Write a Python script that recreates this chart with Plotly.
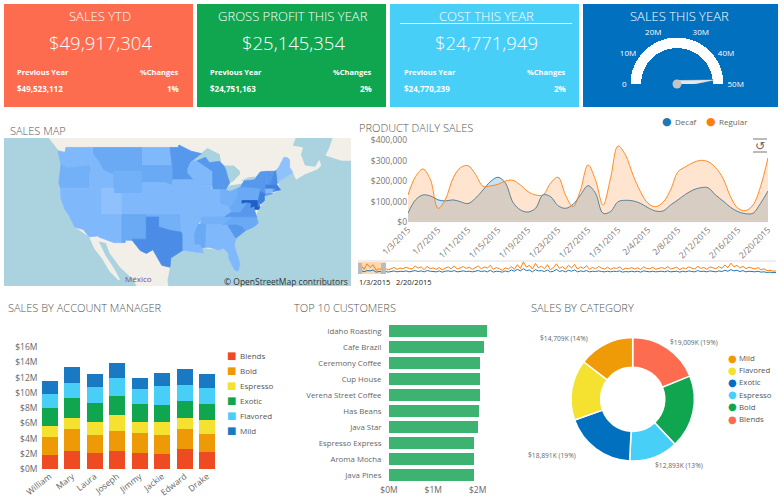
import math
import pandas as pd
import plotly.graph_objects as go

W, H = 784, 500
FONT = "Open Sans"
GREY = "#666666"

# ---------- KPI cards ----------
card_titles = ["SALES YTD", "GROSS PROFIT THIS YEAR", "COST THIS YEAR", "SALES THIS YEAR"]
card_values = ["$49,917,304", "$25,145,354", "$24,771,949"]
card_prev = ["$49,523,112", "$24,751,163", "$24,770,239"]
card_change = ["1%", "2%", "2%"]
card_colors = ["#FD6C4F", "#0FA64F", "#48CFF7", "#0070BF"]

# ---------- gauge ----------
gauge_ticks = [0, 10, 20, 30, 40, 50]
gauge_labels = ["0", "10M", "20M", "30M", "40M", "50M"]
gauge_needle = 48.3

# ---------- daily sales ----------
daily_dates = [d.strftime("%Y-%m-%d") for d in pd.date_range("2015-01-03", "2015-02-20")]
decaf = [44, 109, 133, 128, 109, 104, 109, 100, 91, 117, 157, 198, 219, 190, 97, 60, 50, 68, 133, 125, 81, 68, 87, 133, 178,
         141, 44, 52, 100, 107, 104, 92, 71, 55, 55, 84, 109, 136, 157, 168, 168, 133, 104, 73, 52, 42, 44, 92, 152]
regular = [133, 222, 259, 206, 68, 113, 214, 266, 275, 233, 175, 177, 185, 201, 204, 181, 149, 133, 133, 190, 219, 133, 76, 157, 279,
           206, 84, 214, 371, 327, 230, 149, 92, 76, 97, 157, 246, 270, 290, 301, 295, 266, 214, 125, 68, 57, 84, 173, 314]
daily_ticks = ["2015-01-03", "2015-01-07", "2015-01-11", "2015-01-15", "2015-01-19", "2015-01-23", "2015-01-27",
               "2015-01-31", "2015-02-04", "2015-02-08", "2015-02-12", "2015-02-16", "2015-02-20"]
daily_tick_text = ["1/3/2015", "1/7/2015", "1/11/2015", "1/15/2015", "1/19/2015", "1/23/2015", "1/27/2015",
                   "1/31/2015", "2/4/2015", "2/8/2015", "2/12/2015", "2/16/2015", "2/20/2015"]
daily_y_ticks = [0, 100, 200, 300, 400]
daily_y_text = ["$0", "$100,000", "$200,000", "$300,000", "$400,000"]
nav_regular = [190, 280, 150, 330, 210, 300, 120, 170, 140, 190, 130, 160, 210, 150, 190, 170, 220, 180, 160, 260,
               190, 230, 140, 250, 170, 200, 150, 210, 130, 190, 230, 170, 260, 160, 190, 240, 180, 220, 150, 200,
               260, 170, 230, 190, 280, 150, 210, 170, 120, 200, 160, 240, 150, 300, 180, 390, 220, 280, 160, 340,
               200, 250, 170, 300, 140, 210, 330, 180, 240, 150, 280, 190, 310, 160, 230, 180, 270, 150, 210, 170,
               240, 190, 160, 220, 150, 200, 180, 230, 140, 190, 170, 210, 160, 200, 150, 230, 180, 170, 220, 150,
               190, 210, 170, 240, 160, 190, 220, 140, 200, 170, 230, 190, 160, 250, 180, 210, 150, 230, 190, 170,
               240, 180, 290, 200, 350, 230, 280, 190, 250, 170, 220, 200, 160, 210, 130, 170, 110, 120, 90, 100]
nav_decaf = [90, 120, 70, 110, 100, 130, 60, 80, 70, 90, 60, 80, 100, 70, 90, 80, 100, 70, 90, 110,
             80, 100, 70, 110, 90, 80, 70, 100, 60, 90, 100, 80, 110, 70, 90, 100, 80, 90, 70, 90,
             110, 80, 100, 70, 120, 60, 90, 80, 60, 100, 70, 130, 90, 150, 100, 170, 110, 130, 70, 140,
             100, 110, 80, 130, 70, 90, 150, 80, 110, 70, 120, 90, 130, 70, 100, 80, 110, 70, 90, 80,
             100, 80, 70, 90, 70, 90, 80, 100, 60, 80, 70, 90, 70, 90, 60, 100, 80, 70, 90, 70,
             80, 90, 70, 100, 70, 80, 90, 60, 90, 70, 100, 80, 70, 110, 80, 90, 70, 100, 80, 70,
             100, 80, 120, 90, 140, 100, 120, 80, 110, 70, 90, 80, 70, 90, 60, 70, 50, 60, 40, 50]
nav_dates = pd.date_range("2015-01-03", periods=len(nav_regular), freq="5D").strftime("%Y-%m-%d").tolist()

# ---------- account managers ----------
managers = ["William", "Mary", "Laura", "Joseph", "Jimmy", "Jackie", "Edward", "Drake"]
blends = [1.85, 2.40, 2.15, 2.40, 2.15, 1.97, 2.68, 2.28]
bold = [2.35, 2.80, 2.35, 2.60, 2.60, 2.50, 2.58, 2.37]
espresso = [1.45, 1.50, 1.70, 2.10, 1.45, 1.67, 1.49, 1.80]
exotic = [2.35, 2.65, 2.50, 2.50, 2.30, 2.26, 2.25, 2.10]
flavored = [1.80, 1.95, 2.10, 2.40, 2.00, 2.50, 2.05, 2.11]
mild = [1.80, 2.10, 1.70, 1.95, 1.50, 1.70, 2.05, 1.79]
acct_names = ["Blends", "Bold", "Espresso", "Exotic", "Flavored", "Mild"]
acct_colors = ["#EE4B23", "#EE9A06", "#F5E12F", "#0FA64F", "#48CFF7", "#1979C3"]
acct_y_ticks = [0, 2, 4, 6, 8, 10, 12, 14, 16]
acct_y_text = ["$0M", "$2M", "$4M", "$6M", "$8M", "$10M", "$12M", "$14M", "$16M"]

# ---------- customers ----------
customers = ["Idaho Roasting", "Cafe Brazil", "Ceremony Coffee", "Cup House", "Verena Street Coffee", "Has Beans",
             "Java Star", "Espresso Express", "Aroma Mocha", "Java Pines"]
customer_sales = [2.22, 2.145, 2.06, 2.06, 2.06, 2.03, 2.015, 1.92, 1.92, 1.92]

# ---------- category donut ----------
cat_names = ["Blends", "Bold", "Espresso", "Exotic", "Flavored", "Mild"]
cat_values = [19009, 19300, 12893, 18891, 16000, 14709]
cat_colors = ["#FD6C4F", "#0FA64F", "#48CFF7", "#0070BF", "#F5E12F", "#EF9B07"]
cat_legend = ["Mild", "Flavored", "Exotic", "Espresso", "Bold", "Blends"]
cat_labels = ["$19,009K (19%)", "$14,709K (14%)", "$18,891K (19%)", "$12,893K (13%)"]

# ---------- map ----------
S1, S2, S3, S4, S5, S6, S7, S8 = "#8FC2FC", "#80B8FC", "#72B0F7", "#6AA9F4", "#5598EC", "#4A8CE6", "#3E80E0", "#1F5FC8"
land = [(-128, 52), (-127, 50.5), (-124.7, 48.6), (-123.4, 48.3), (-124.5, 43), (-124, 40), (-122, 36.8), (-120.6, 34.5),
        (-117.1, 32.5), (-115.8, 30), (-114, 28), (-112, 25), (-109.8, 23), (-109.5, 23.3), (-111, 25.8), (-113, 28.5),
        (-114.7, 31.5), (-113, 31.2), (-112, 29), (-109.5, 26), (-106, 23), (-105.2, 21), (-97.5, 21), (-97.8, 23),
        (-97.2, 26), (-97, 28), (-94, 29.7), (-91, 29.3), (-89, 29.1), (-89.4, 30.2), (-85.3, 29.7), (-84, 30.1),
        (-82.8, 29), (-82.7, 27.8), (-81.2, 25.2), (-80.4, 25.2), (-80, 26.7), (-81.4, 30.7), (-81, 32.2), (-78.6, 33.8),
        (-75.5, 35.3), (-76, 37), (-75.1, 38.4), (-74, 39.7), (-74, 40.6), (-72, 41), (-70, 41.7), (-70.7, 43.1),
        (-67, 44.8), (-66.2, 43.5), (-64, 44.5), (-61, 45.3), (-60, 46), (-60.5, 47), (-61.5, 45.8), (-64, 46),
        (-65, 47.8), (-64.5, 49), (-67, 49.3), (-66, 51), (-128, 52)]
newfoundland = [(-59, 47.7), (-55, 46.8), (-52.5, 46.8), (-52.5, 50.5), (-57, 51), (-58, 49)]
lakes = [
    [(-92, 46.7), (-89.5, 48), (-88, 48.9), (-85, 47.9), (-84.6, 46.5), (-87.5, 46.5), (-90.5, 46.8)],
    [(-84.6, 46), (-81.5, 46), (-80, 45), (-80, 44.5), (-81.7, 43.2), (-82.5, 43), (-83.5, 45.3)],
    [(-83.5, 41.7), (-82.5, 42.5), (-79, 42.9), (-78.9, 42.8), (-80.5, 42), (-82.5, 41.4)],
    [(-79.8, 43.3), (-78, 43.9), (-76.2, 44.1), (-76.5, 43.5), (-79, 43.3)],
]
states = {
    "WA": (S2, [(-124.7, 48.4), (-123, 48.2), (-122.8, 49), (-117, 49), (-117, 46), (-119, 45.9), (-121, 45.7), (-122.3, 45.6), (-124, 46.2)]),
    "OR": (S3, [(-124, 46.2), (-122.3, 45.6), (-121, 45.7), (-119, 45.9), (-117, 46), (-116.5, 45.5), (-117, 44.3), (-117, 42), (-124.2, 42), (-124.5, 43)]),
    "CA": (S2, [(-124.2, 42), (-120, 42), (-120, 39), (-114.6, 35), (-114.7, 32.7), (-117.1, 32.5), (-118.5, 34), (-120.6, 34.5), (-122, 36.8), (-123, 38), (-124, 40)]),
    "NV": (S2, [(-120, 42), (-114, 42), (-114, 36.2), (-114.6, 36), (-114.6, 35), (-120, 39)]),
    "ID": (S2, [(-117, 49), (-116, 49), (-116, 48), (-114.5, 46.6), (-113.5, 45.3), (-111, 44.5), (-111, 42), (-117, 42), (-117, 44.3), (-116.5, 45.5), (-117, 46)]),
    "MT": (S4, [(-116, 49), (-104, 49), (-104, 45), (-111, 45), (-111, 44.5), (-113.5, 45.3), (-114.5, 46.6), (-116, 48)]),
    "WY": (S3, [(-111, 45), (-104, 45), (-104, 41), (-111, 41)]),
    "UT": (S1, [(-114, 42), (-111, 42), (-111, 41), (-109, 41), (-109, 37), (-114, 37)]),
    "AZ": (S2, [(-114, 37), (-109, 37), (-109, 31.3), (-111, 31.3), (-114.8, 32.5), (-114.7, 32.7), (-114.6, 35), (-114.6, 36), (-114, 36.2)]),
    "CO": (S2, [(-109, 41), (-102, 41), (-102, 37), (-109, 37)]),
    "NM": (S4, [(-109, 37), (-103, 37), (-103, 32), (-106.5, 32), (-106.5, 31.8), (-108.2, 31.8), (-108.2, 31.3), (-109, 31.3)]),
    "ND": (S2, [(-104, 49), (-97.2, 49), (-96.6, 46), (-104, 46)]),
    "SD": (S4, [(-104, 46), (-96.6, 46), (-96.5, 42.5), (-98.5, 43), (-104, 43)]),
    "NE": (S2, [(-104, 43), (-98.5, 43), (-96.5, 42.5), (-95.3, 40), (-102, 40), (-102, 41), (-104, 41)]),
    "KS": (S2, [(-102, 40), (-95.3, 40), (-94.6, 39), (-94.6, 37), (-102, 37)]),
    "OK": (S3, [(-103, 37), (-94.6, 37), (-94.4, 33.7), (-97, 33.8), (-100, 34.5), (-100, 36.5), (-103, 36.5)]),
    "TX": (S6, [(-106.5, 32), (-103, 32), (-103, 36.5), (-100, 36.5), (-100, 34.5), (-97, 33.8), (-94.1, 33.5), (-94, 29.7), (-97, 28), (-97.2, 26), (-99.2, 26.4), (-101.4, 29.8), (-103, 29), (-104.5, 29.6), (-106.5, 31.8)]),
    "MN": (S5, [(-97.2, 49), (-95.2, 49), (-95, 49.4), (-92, 48.4), (-89.5, 48), (-92, 46.7), (-92.8, 45.5), (-92.8, 44.7), (-91.3, 43.5), (-96.5, 43.5), (-96.5, 45.4), (-96.6, 46)]),
    "IA": (S2, [(-96.5, 43.5), (-91.3, 43.5), (-90.2, 41.8), (-91.4, 40.4), (-95.7, 40.6), (-96.5, 42.5)]),
    "MO": (S2, [(-95.7, 40.6), (-91.4, 40.4), (-90.2, 38.8), (-89.2, 37), (-89.5, 36), (-90.4, 36), (-94.6, 36.5), (-94.6, 39), (-95.3, 40)]),
    "AR": (S2, [(-94.6, 36.5), (-90.2, 36.5), (-89.7, 36), (-91.2, 33), (-94, 33), (-94.4, 33.7)]),
    "LA": (S2, [(-94, 33), (-91.2, 33), (-91, 31), (-89.7, 31), (-89.4, 30.2), (-89, 29.1), (-91, 29.3), (-94, 29.7)]),
    "WI": (S2, [(-92, 46.7), (-90.5, 46.8), (-88, 45.6), (-86.7, 45), (-86.7, 42.5), (-90.6, 42.5), (-91.3, 43.5), (-92.8, 44.7), (-92.8, 45.5)]),
    "IL": (S2, [(-90.6, 42.5), (-87, 42.5), (-87.5, 38.5), (-88, 37.8), (-89.2, 37), (-90.2, 38.8), (-91.4, 40.4), (-90.2, 41.8)]),
    "MI": (S5, [(-90.5, 46.8), (-88.5, 47.4), (-87.5, 46.5), (-85, 46.7), (-84, 46), (-83.5, 45.3), (-83, 44), (-82.5, 43), (-83.5, 41.7), (-86.7, 41.7), (-86.7, 45), (-88, 45.6)]),
    "IN": (S2, [(-87.5, 41.8), (-84.8, 41.7), (-84.8, 39.1), (-86, 38), (-88, 37.8), (-87.5, 38.5)]),
    "OH": (S3, [(-84.8, 41.7), (-83.5, 41.7), (-82.5, 41.4), (-80.5, 42), (-80.5, 40.6), (-81.8, 39), (-82.6, 38.4), (-84.8, 39.1)]),
    "KY": (S2, [(-89.2, 37), (-88, 37.8), (-86, 38), (-84.8, 39.1), (-82.6, 38.4), (-82, 37.5), (-83.7, 36.6), (-89.5, 36.5)]),
    "TN": (S3, [(-89.7, 35), (-89.5, 36.5), (-83.7, 36.6), (-81.7, 36.6), (-84.3, 35), (-90.2, 35)]),
    "MS": (S4, [(-90.3, 35), (-88.2, 35), (-88.4, 30.3), (-89.4, 30.2), (-89.7, 31), (-91, 31), (-91.2, 33)]),
    "AL": (S2, [(-88.2, 35), (-85.6, 35), (-85, 32.3), (-85, 31), (-87.6, 31), (-87.5, 30.3), (-88.4, 30.3)]),
    "GA": (S2, [(-85.6, 35), (-83.1, 35), (-81, 32.2), (-81.4, 30.7), (-82, 30.4), (-84.9, 30.7), (-85, 32.3)]),
    "FL": (S2, [(-87.6, 31), (-85, 31), (-84.9, 30.7), (-82, 30.4), (-81.4, 30.7), (-80.5, 28.3), (-80, 26.7), (-80.4, 25.2), (-81.2, 25.2), (-82.7, 27.8), (-82.8, 29), (-84, 30.1), (-85.3, 29.7), (-87.5, 30.3)]),
    "SC": (S5, [(-83.1, 35), (-81, 35.1), (-79.5, 34.7), (-78.6, 33.8), (-81, 32.2)]),
    "NC": (S4, [(-84.3, 35), (-83.1, 35), (-81, 35.1), (-79.5, 34.7), (-78.6, 33.8), (-76.5, 34.6), (-75.5, 35.3), (-75.9, 36.55), (-81.7, 36.6)]),
    "VA": (S5, [(-83.7, 36.6), (-75.9, 36.55), (-76.3, 37.5), (-76.5, 38.2), (-77.3, 38.4), (-77.2, 39.1), (-78.3, 39.4), (-80, 37.5), (-82, 37.5)]),
    "WV": (S4, [(-82.6, 38.4), (-81.8, 39), (-80.5, 40.6), (-80.5, 39.7), (-79.5, 39.7), (-79.5, 39.2), (-78.3, 39.4), (-80, 37.5), (-82, 37.5)]),
    "PA": (S4, [(-80.5, 42), (-79.8, 42.3), (-75, 42), (-75.1, 41.3), (-75.2, 40), (-75.8, 39.7), (-80.5, 39.7)]),
    "NY": (S5, [(-79.8, 42.3), (-79, 43.3), (-76.5, 43.5), (-75, 44.9), (-73.4, 45), (-73.5, 41.3), (-72, 41), (-74, 40.6), (-74.2, 41.1), (-75, 41.4), (-75, 42)]),
    "NJ": (S7, [(-75, 41.4), (-74, 41), (-74, 39.7), (-74.9, 39), (-75.5, 39.6)]),
    "DE": (S7, [(-75.8, 39.7), (-75.4, 39.6), (-75.1, 38.5), (-75.7, 38.5)]),
    "MD": (S8, [(-79.5, 39.7), (-75.8, 39.7), (-75.7, 38.5), (-75.1, 38.4), (-75.4, 38), (-76.3, 38), (-76.5, 38.5), (-77.3, 38.4), (-77.2, 39.2), (-78.3, 39.4), (-79.5, 39.2)]),
    "CT": (S2, [(-73.7, 42), (-71.8, 42), (-71.8, 41.3), (-73.6, 41)]),
    "RI": (S5, [(-71.8, 42), (-71.2, 42), (-71.2, 41.5), (-71.8, 41.3)]),
    "MA": (S7, [(-73.5, 42.7), (-71, 42.7), (-70, 41.7), (-71.2, 41.5), (-71.2, 42), (-73.7, 42)]),
    "VT": (S5, [(-73.4, 45), (-71.5, 45), (-72.4, 42.7), (-73.3, 42.7)]),
    "NH": (S6, [(-71.5, 45), (-71, 45.2), (-70.7, 43.1), (-71, 42.7), (-72.4, 42.7)]),
    "ME": (S1, [(-71, 45.2), (-70.3, 45.9), (-69.2, 47.4), (-68.3, 47.3), (-67.8, 47), (-67.8, 45.7), (-67, 44.8), (-70.7, 43.1)]),
}


def merc(lat):
    return math.degrees(math.log(math.tan(math.radians(45 + lat / 2))))


def dom_x(x0, x1):
    return [x0 / W, x1 / W]


def dom_y(top, bottom):
    return [1 - bottom / H, 1 - top / H]


annotations = []
shapes = []


def text(x, y, s, size=10, color=GREY, anchor="left", family=FONT, weight=400):
    annotations.append(dict(x=x / W, y=1 - y / H, xref="paper", yref="paper", text=s, showarrow=False,
                            xanchor=anchor, yanchor="middle", align=anchor,
                            font=dict(size=size, color=color, family=family, weight=weight), borderpad=0))


def rect(x0, y0, x1, y1, color, layer="below"):
    shapes.append(dict(type="rect", xref="paper", yref="paper", x0=x0 / W, x1=x1 / W, y0=1 - y0 / H, y1=1 - y1 / H,
                       fillcolor=color, line=dict(width=0), layer=layer))


def poly_trace(points, color, edge=0.0):
    return go.Scatter(x=[p[0] for p in points] + [points[0][0]], y=[merc(p[1]) for p in points] + [merc(points[0][1])],
                      mode="lines", fill="toself", fillcolor=color, line=dict(width=edge, color=color), hoverinfo="skip",
                      showlegend=False, xaxis="x", yaxis="y")


fig = go.Figure()

# cards
card_boxes = [(4, 193), (197, 386), (390, 579), (583, 778)]
for (x0, x1), c in zip(card_boxes, card_colors):
    rect(x0, 4, x1, 107, c)
title_cx = [100, 293, 486, 679]
for t, cx in zip(card_titles, title_cx):
    text(cx, 15.5, t, size=13, color="white", anchor="center", weight=300)
prev_x = [16, 209, 403]
chg_x = [180, 373, 567]
for i in range(3):
    text(title_cx[i], 43, card_values[i], size=18.5, color="white", anchor="center", weight=300)
    text(prev_x[i], 72, "<b>Previous Year</b>", size=7.5, color="white")
    text(chg_x[i], 72, "<b>%Changes</b>", size=7.5, color="white", anchor="right")
    text(prev_x[i], 89, "<b>" + card_prev[i] + "</b>", size=8, color="white")
    text(chg_x[i], 89, "<b>" + card_change[i] + "</b>", size=8, color="white", anchor="right")
shapes.append(dict(type="line", xref="paper", yref="paper", x0=400 / W, x1=572 / W, y0=1 - 23.5 / H, y1=1 - 23.5 / H,
                   line=dict(color="white", width=1)))

# section titles
for x, y, s in [(9, 130, "SALES MAP"), (358, 127.5, "PRODUCT DAILY SALES"), (7, 307, "SALES BY ACCOUNT MANAGER"),
                (293, 307, "TOP 10 CUSTOMERS"), (530, 307, "SALES BY CATEGORY")]:
    text(x, y, s, size=11, color="#555555", weight=300)

# map
rect(4, 138, 351, 286, "#AAD3DF")
fig.add_trace(poly_trace(land, "#F2EFE9"))
fig.add_trace(poly_trace(newfoundland, "#F2EFE9"))
for lk in lakes:
    fig.add_trace(poly_trace(lk, "#AAD3DF"))
for code, (col, pts) in states.items():
    fig.add_trace(poly_trace(pts, col, edge=0.8))
text(138, 278, "México", size=8, color="#7B4A90", anchor="center")
text(349, 281.5, "© OpenStreetMap contributors", size=8.5, color="#333333", anchor="right")

# daily sales
fig.add_trace(go.Scatter(x=daily_dates, y=decaf, name="Decaf", mode="lines", line=dict(color="#1F77B4", width=0.9, shape="spline"),
                         fill="tozeroy", fillcolor="rgba(31,119,180,0.22)", xaxis="x2", yaxis="y2", showlegend=False))
fig.add_trace(go.Scatter(x=daily_dates, y=regular, name="Regular", mode="lines", line=dict(color="#FF7F0E", width=0.9, shape="spline"),
                         fill="tozeroy", fillcolor="rgba(255,127,14,0.2)", xaxis="x2", yaxis="y2", showlegend=False))
text(667, 121.5, "●", size=11, color="#1F77B4", anchor="center", family="DejaVu Sans")
text(673.5, 121.5, "Decaf", size=8, color="#666666")
text(711, 121.5, "●", size=11, color="#FF7F0E", anchor="center", family="DejaVu Sans")
text(718, 121.5, "Regular", size=8, color="#666666")
text(760, 146, "↺", size=12, color="#666666", anchor="center", family="DejaVu Sans")
for yy in (139, 152):
    shapes.append(dict(type="line", xref="paper", yref="paper", x0=753 / W, x1=767 / W, y0=1 - yy / H, y1=1 - yy / H,
                       line=dict(color="#777777", width=1)))

# navigator
rect(358, 262, 386, 274, "#FBD9B5")
shapes.append(dict(type="line", xref="paper", yref="paper", x0=358 / W, x1=776 / W, y0=1 - 261 / H, y1=1 - 261 / H,
                   line=dict(color="#DDDDDD", width=1)))
fig.add_trace(go.Scatter(x=nav_dates, y=nav_decaf, mode="lines", line=dict(color="#1F77B4", width=1), xaxis="x3", yaxis="y3",
                         hoverinfo="skip", showlegend=False))
fig.add_trace(go.Scatter(x=nav_dates, y=nav_regular, mode="lines", line=dict(color="#FF7F0E", width=1), xaxis="x3", yaxis="y3",
                         hoverinfo="skip", showlegend=False))
rect(358, 263, 362, 274, "#BBBBBB", layer="above")
rect(381, 263, 386, 274, "#BBBBBB", layer="above")
text(358, 282, "1/3/2015", size=7.5, color="#222222")
text(395, 282, "2/20/2015", size=7.5, color="#222222")

# account manager bars
for name, vals, col in zip(acct_names, [blends, bold, espresso, exotic, flavored, mild], acct_colors):
    fig.add_trace(go.Bar(x=managers, y=vals, name=name, marker=dict(color=col, line=dict(width=0)), xaxis="x4", yaxis="y4",
                         width=0.7, showlegend=False))
for i, (name, col) in enumerate(zip(acct_names, acct_colors)):
    y = 355.5 + i * 15
    text(231.5, y, "■", size=10, color=col, anchor="center", family="DejaVu Sans")
    text(239, y, name, size=8, color="#555555")

# customers
fig.add_trace(go.Bar(x=customer_sales, y=customers, orientation="h", width=0.8, marker=dict(color="#3CB371", line=dict(width=0)),
                     xaxis="x5", yaxis="y5", showlegend=False))

# donut
fig.add_trace(go.Pie(labels=cat_names, values=cat_values, hole=0.52, sort=False, direction="clockwise", rotation=0,
                     marker=dict(colors=cat_colors, line=dict(color="white", width=1.5)), textinfo="none", showlegend=False,
                     domain=dict(x=dom_x(632.7 - 61.7, 632.7 + 61.7), y=dom_y(399.3 - 61.7, 399.3 + 61.7))))
for (x, y), s in zip([(694, 342), (564, 338), (552, 455), (679, 465)], cat_labels):
    text(x, y, s, size=6.7, color="#666666", anchor="center")
cat_legend_colors = ["#EF9B07", "#F5E12F", "#0070BF", "#48CFF7", "#0FA64F", "#FD6C4F"]
for i, (name, col) in enumerate(zip(cat_legend, cat_legend_colors)):
    y = 358 + i * 12.2
    text(732, y, "●", size=10, color=col, anchor="center", family="DejaVu Sans")
    text(738, y, name, size=7.8, color="#555555")

# gauge
to_angle = lambda v: (50 - v) / 50 * 180
fig.add_trace(go.Barpolar(r=[0.21], base=[0.72], theta=[90], width=[180], marker=dict(color="white", line=dict(width=0)),
                          subplot="polar", hoverinfo="skip", showlegend=False))
needle_angle = to_angle(gauge_needle)
fig.add_trace(go.Scatterpolar(r=[0.07, 0.74, 0.07, 0.07], theta=[needle_angle + 90, needle_angle, needle_angle - 90, needle_angle + 90],
                              mode="lines", fill="toself", fillcolor="#E8E8E8", line=dict(color="#E8E8E8", width=0.5),
                              subplot="polar", cliponaxis=False, hoverinfo="skip", showlegend=False))
fig.add_trace(go.Scatterpolar(r=[0], theta=[0], mode="markers", marker=dict(color="#C4C4C4", size=9), subplot="polar",
                              cliponaxis=False, hoverinfo="skip", showlegend=False))

axis_off = dict(visible=False, showgrid=False, zeroline=False, fixedrange=True)
fig.update_layout(
    template="none",
    width=W, height=H, autosize=False, margin=dict(l=0, r=0, t=0, b=0, autoexpand=False), paper_bgcolor="white",
    plot_bgcolor="rgba(0,0,0,0)", font=dict(family=FONT, color=GREY), showlegend=False, shapes=shapes, annotations=annotations,
    barmode="stack",
    xaxis=dict(domain=dom_x(4, 351), range=[-138, -52.7], **axis_off),
    yaxis=dict(domain=dom_y(138, 286), range=[22.3, 58.7], **axis_off),
    xaxis2=dict(domain=dom_x(408, 768), anchor="y2", type="date", range=["2015-01-03", "2015-02-20"], tickmode="array",
                tickvals=daily_ticks, ticktext=daily_tick_text, tickangle=-45, tickfont=dict(size=8.5, color="#777777"),
                showgrid=True, gridcolor="white", gridwidth=1, zeroline=False, fixedrange=True, ticks="", automargin=False),
    yaxis2=dict(domain=dom_y(140, 222.3), anchor="x2", range=[0, 400], tickmode="array", tickvals=daily_y_ticks,
                ticktext=daily_y_text, tickfont=dict(size=8.5, color="#777777"), showgrid=False, zeroline=False, fixedrange=True,
                automargin=False),
    xaxis3=dict(domain=dom_x(358, 776), anchor="y3", type="date", range=[nav_dates[0], nav_dates[-1]], **axis_off),
    yaxis3=dict(domain=dom_y(261, 274), anchor="x3", range=[0, 420], **axis_off),
    xaxis4=dict(domain=dom_x(38.4, 218.4), anchor="y4", tickangle=-38, tickfont=dict(size=8.5, color="#666666"), showgrid=False,
                zeroline=False, fixedrange=True, ticks="", automargin=False),
    yaxis4=dict(domain=dom_y(347.3, 469), anchor="x4", range=[0, 16], tickmode="array", tickvals=acct_y_ticks, ticktext=acct_y_text,
                tickfont=dict(size=8.5, color="#666666"), showgrid=False, zeroline=False, fixedrange=True, automargin=False),
    xaxis5=dict(domain=dom_x(389, 490), anchor="y5", range=[0, 2.28], tickmode="array", tickvals=[0, 1, 2],
                ticktext=["$0M", "$1M", "$2M"], tickfont=dict(size=8.5, color="#666666"), showgrid=False, zeroline=False, fixedrange=True,
                automargin=False),
    yaxis5=dict(domain=dom_y(323, 483), anchor="x5", autorange="reversed", tickfont=dict(size=7.8, color="#666666"), showgrid=False,
                zeroline=False, fixedrange=True, ticks="outside", ticklen=5, tickcolor="white", automargin=False),
    polar=dict(domain=dict(x=dom_x(627, 727), y=dom_y(34, 84)), sector=[0, 180], bgcolor="rgba(0,0,0,0)",
               radialaxis=dict(visible=False, range=[0, 1]),
               angularaxis=dict(tickmode="array", tickvals=[to_angle(v) for v in gauge_ticks], ticktext=gauge_labels,
                                showgrid=False, showline=False, ticks="", direction="counterclockwise", rotation=0,
                                tickfont=dict(size=8, color="white", family=FONT))),
)

fig.write_html("out.html", config=dict(displayModeBar=False),
               post_script="document.body.style.margin='0';document.body.style.overflow='hidden';")
